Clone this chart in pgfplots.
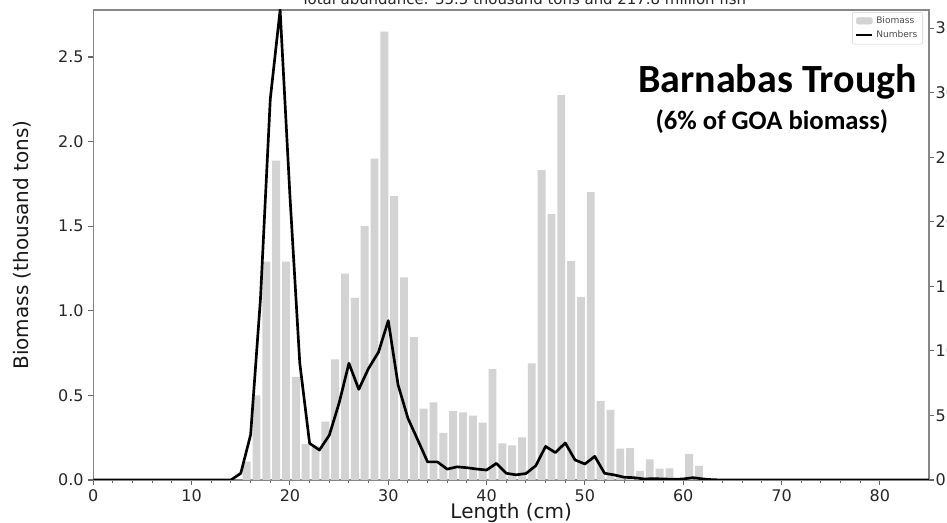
\documentclass[border=0pt]{standalone}
\usepackage{fontspec}
\setmainfont{DejaVu Sans}
\newfontfamily\calibri{Carlito}
\usepackage{pgfplots}
\usepackage{pgfplotstable}
\pgfplotsset{compat=1.18}

\definecolor{barfill}{RGB}{211,211,211}
\definecolor{spine}{RGB}{135,135,135}

% Short legend glyphs
\pgfplotsset{
  short line legend/.style={legend image code/.code={\draw[##1] (0cm,0cm) -- (0.42cm,0cm);}},
  patch legend/.style={legend image code/.code={\fill[barfill] (0cm,-0.07cm) rectangle (0.42cm,0.1cm);}},
}

% Biomass by 1-cm length class (thousand tons)
\pgfplotstableread{
L B
16 0.108
17 0.50
18 1.29
19 1.887
20 1.29
21 0.61
22 0.212
23 0.20
24 0.345
25 0.713
26 1.22
27 1.077
28 1.50
29 1.90
30 2.65
31 1.678
32 1.198
33 0.845
34 0.422
35 0.459
36 0.279
37 0.407
38 0.399
39 0.38
40 0.339
41 0.656
42 0.217
43 0.205
44 0.252
45 0.69
46 1.832
47 1.572
48 2.275
49 1.294
50 1.083
51 1.702
52 0.467
53 0.414
54 0.185
55 0.188
56 0.054
57 0.122
58 0.067
59 0.069
61 0.154
62 0.083
}\biomass

% Numbers by length class (millions of fish)
\pgfplotstableread{
L N
0 0
1 0
2 0
3 0
4 0
5 0
6 0
7 0
8 0
9 0
10 0
11 0
12 0
13 0
14 0
15 0.52
16 3.5
17 14.0
18 29.5
19 36.4
20 22.0
21 9.06
22 2.84
23 2.32
24 3.46
25 5.96
26 9.04
27 7.02
28 8.65
29 9.89
30 12.34
31 7.36
32 4.78
33 3.10
34 1.40
35 1.40
36 0.84
37 1.02
38 0.95
39 0.85
40 0.77
41 1.29
42 0.52
43 0.40
44 0.50
45 1.10
46 2.60
47 2.12
48 2.87
49 1.55
50 1.24
51 1.83
52 0.52
53 0.39
54 0.21
55 0.18
56 0.08
57 0.10
58 0.08
59 0.05
60 0.08
61 0.18
62 0.08
63 0.02
64 0
65 0
66 0
67 0
68 0
69 0
70 0
71 0
72 0
73 0
74 0
75 0
76 0
77 0
78 0
79 0
80 0
81 0
82 0
83 0
84 0
85 0
}\numbers

\begin{document}
\begin{tikzpicture}
\pgfplotsset{
  twin/.style={
    scale only axis, width=626.8pt, height=352.5pt,
    at={(0,0)}, anchor=south west,
    xmin=0, xmax=85,
    axis line style={spine, line width=1pt},
    tick style={black!60, line width=0.8pt},
    tick align=outside,
    major tick length=3.75pt, minor tick length=2.2pt,
    ticklabel style={font=\fontsize{12}{14}\selectfont, text=black!85},
    /pgf/number format/assume math mode=true,
  }
}
\begin{axis}[twin, name=main,
  ybar, bar width=0.8,
  ymin=0, ymax=2.778,
  clip=false,
  xtick={0,10,...,80}, minor x tick num=4,
  xtick pos=lower, ytick pos=left,
  ytick={0,0.5,...,2.5},
  yticklabel style={/pgf/number format/.cd, fixed, fixed zerofill, precision=1},
  xlabel={Length (cm)}, ylabel={Biomass (thousand tons)},
  label style={font=\fontsize{15}{18}\selectfont, text=black!90},
  xlabel style={at={(axis description cs:0.5,-0.0809)}, anchor=base},
  ylabel style={at={(axis description cs:-0.0778,0.5)}, anchor=base},
]
\addplot[fill=barfill, draw=none] table[x expr=\thisrow{L}-0.4, y=B] {\biomass};
% Title line above the frame
\node[anchor=base, font=\fontsize{11.2}{13}\selectfont, text=black!85,
  inner sep=0pt] at ([yshift=4pt]axis description cs:0.5148,1)
  {Total abundance: 35.5 thousand tons and 217.8 million fish};
\end{axis}

\begin{axis}[twin,
  ymin=0, ymax=36.4,
  axis y line*=right, axis x line=none,
  ytick={0,5,...,35},
  yticklabel style={xshift=-2.3pt},
  legend style={at={(axis description cs:0.9928,0.9957)}, anchor=north east,
    font=\fontsize{6.8}{7.5}\selectfont, text=black!70,
    draw=black!18, rounded corners=1.5pt, fill=white,
    inner xsep=2pt, inner ysep=1.5pt, row sep=-0.5pt},
  legend cell align=left,
]
\addlegendimage{patch legend}
\addlegendentry{Biomass}
\addplot[black, line width=2pt, line join=round, short line legend]
  table[x=L, y=N] {\numbers};
\addlegendentry{Numbers}
\node[font=\calibri\bfseries\fontsize{30}{36}\selectfont, anchor=base]
  at (axis description cs:0.8187,0.8255) {Barnabas Trough};
\node[font=\calibri\bfseries\fontsize{20}{24}\selectfont, anchor=base]
  at (axis description cs:0.812,0.7447) {(6\% of GOA biomass)};
\end{axis}

\pgfresetboundingbox
\useasboundingbox (-69.975pt,-32.25pt) rectangle (640.275pt,360pt);
\end{tikzpicture}
\end{document}
